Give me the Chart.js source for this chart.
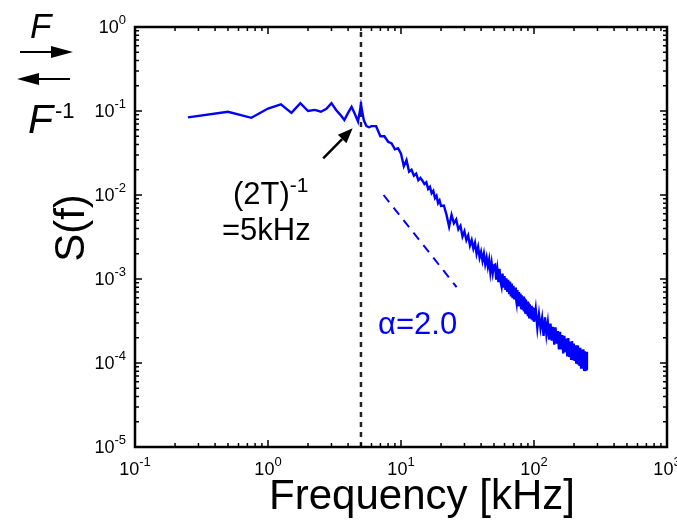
<!DOCTYPE html>
<html>
<head>
<meta charset="utf-8">
<script src="https://cdn.jsdelivr.net/npm/chart.js@4.4.1/dist/chart.umd.min.js"></script>
<style>
  html, body { margin: 0; padding: 0; background: #fff; }
  #wrap { width: 677px; height: 525px; position: relative; }
</style>
</head>
<body>
<div id="wrap"><canvas id="psdChart"></canvas></div>
<script>
// spectrum S(f), frequency in kHz
const freqs = [
  0.25, 0.5, 0.75, 1, 1.25, 1.5, 1.75, 2, 2.25, 2.5, 2.75, 3, 3.25, 3.5, 3.75, 4, 4.25, 4.5, 4.75, 5, 5.25, 5.5, 5.75, 6,
  6.5, 7, 7.5, 8, 8.5, 9, 9.5, 10, 10.5, 11, 11.5, 12, 12.5, 13, 13.5, 14, 14.5, 15, 15.5, 16, 16.5, 17, 17.5, 18, 18.5, 19, 19.5, 20,
  21, 22, 23, 24, 25, 26, 27, 28, 29, 30, 31, 32, 33, 34, 35, 36, 37, 38, 39, 40, 41, 42, 43, 44, 45, 46, 47, 48, 49, 50,
  51, 52, 53, 54, 55, 56, 57, 58, 59, 60, 61, 62, 63, 64, 65, 66, 67, 68, 69, 70, 71, 72, 73, 74, 75,
  76, 77, 78, 79, 80, 81, 82, 83, 84, 85, 86, 87, 88, 89, 90, 91, 92, 93, 94, 95, 96, 97, 98, 99, 100,
  103, 106, 109, 112, 115, 118, 121, 124, 127, 130, 133, 136, 139, 142, 145, 148, 151, 154, 157, 160, 163, 166, 169, 172, 175,
  178, 181, 184, 187, 190, 193, 196, 199, 202, 205, 208, 211, 214, 217, 220, 223, 226, 229, 232, 235, 238, 241, 244, 247, 250
]
const psd = [
  0.084, 0.098, 0.083, 0.107, 0.12, 0.095, 0.124, 0.1, 0.103, 0.098, 0.106, 0.124, 0.103, 0.09, 0.078, 0.095, 0.112, 0.092, 0.075, 0.118, 0.078, 0.066, 0.064, 0.066,
  0.066, 0.05, 0.05, 0.043, 0.041, 0.035, 0.036, 0.031, 0.022, 0.026, 0.019, 0.02, 0.017, 0.018, 0.015, 0.016, 0.0148, 0.0135, 0.0142, 0.0118, 0.0125, 0.0105, 0.0112, 0.0092, 0.0098, 0.008, 0.0086, 0.0074,
  0.0075, 0.0058, 0.0042, 0.0058, 0.0046, 0.0051, 0.0039, 0.0043, 0.0032, 0.0037, 0.0029, 0.0033, 0.0025, 0.0029, 0.0023, 0.0027, 0.002, 0.0024, 0.0018, 0.0021, 0.00165, 0.002, 0.0015, 0.0018, 0.0014, 0.0017, 0.0012, 0.00155, 0.00118, 0.00145,
  0.00148, 0.00098, 0.00128, 0.00092, 0.00132, 0.00094, 0.00082, 0.00116, 0.00079, 0.00108, 0.00074, 0.00102, 0.0007, 0.00098, 0.00068, 0.00093, 0.00062, 0.00088, 0.00059, 0.00083, 0.00057, 0.00079, 0.0006, 0.00052, 0.00074,
  0.00049, 0.0007, 0.00047, 0.00067, 0.00045, 0.00064, 0.00043, 0.00062, 0.00041, 0.00059, 0.0004, 0.00057, 0.00038, 0.00054, 0.00036, 0.00052, 0.00035, 0.0005, 0.00034, 0.00048, 0.00033, 0.00046, 0.00032, 0.00045, 0.00031,
  4.4e-4, 2.6e-4, 3.8e-4, 2.6e-4, 3.4e-4, 2.1e-4, 3.5e-4, 2.2e-4, 3.0e-4, 1.9e-4, 2.95e-4, 1.85e-4, 2.7e-4, 1.65e-4, 2.65e-4, 1.7e-4, 2.4e-4, 1.45e-4, 2.35e-4, 1.45e-4, 2.15e-4, 1.3e-4, 2.1e-4, 1.35e-4, 1.95e-4,
  1.2e-4, 1.98e-4, 1.18e-4, 1.8e-4, 1.12e-4, 1.82e-4, 1.08e-4, 1.7e-4, 1.06e-4, 1.62e-4, 0.98e-4, 1.62e-4, 0.96e-4, 1.52e-4, 0.92e-4, 1.52e-4, 0.88e-4, 1.44e-4, 0.86e-4, 1.46e-4, 0.83e-4, 1.38e-4, 0.8e-4, 1.36e-4, 0.82e-4
]

// alpha = 2.0 guide line
const guideFreq = [7.4, 26.2]
const guideS = [0.01, 0.0008]

// (2T)^-1 cutoff marker
const cutoffFreq = 5
const arrowFrom = { x: 2.6, y: 0.0273 }
const arrowTo = { x: 4.33, y: 0.0622 }

const xDecades = [0.1, 1, 10, 100, 1000]
const xExponents = ['-1', '0', '1', '2', '3']
const yDecades = [0.00001, 0.0001, 0.001, 0.01, 0.1, 1]
const yExponents = ['-5', '-4', '-3', '-2', '-1', '0']

const FONT = '"Liberation Sans", Arial, Helvetica, sans-serif'

function powerLabel(ctx, exp, x, y, align) {
  // "10" plus raised exponent, y = baseline of the "10"
  ctx.font = '18px ' + FONT
  const wBase = ctx.measureText('10').width
  ctx.font = '13px ' + FONT
  const wExp = ctx.measureText(exp).width
  let left = x
  if (align === 'right') left = x - wBase - wExp
  if (align === 'center') left = x - (wBase + wExp) / 2
  ctx.textAlign = 'left'
  ctx.textBaseline = 'alphabetic'
  ctx.font = '18px ' + FONT
  ctx.fillText('10', left, y)
  ctx.font = '13px ' + FONT
  ctx.fillText(exp, left + wBase, y - 9)
}

function arrow(ctx, x1, y1, x2, y2, headLen, headHalf) {
  const ang = Math.atan2(y2 - y1, x2 - x1)
  const bx = x2 - Math.cos(ang) * headLen
  const by = y2 - Math.sin(ang) * headLen
  ctx.beginPath()
  ctx.moveTo(x1, y1)
  ctx.lineTo(bx, by)
  ctx.stroke()
  ctx.beginPath()
  ctx.moveTo(x2, y2)
  ctx.lineTo(bx + Math.sin(ang) * headHalf, by - Math.cos(ang) * headHalf)
  ctx.lineTo(bx - Math.sin(ang) * headHalf, by + Math.cos(ang) * headHalf)
  ctx.closePath()
  ctx.fill()
}

const axisDecor = {
  id: 'axisDecor',
  afterDraw(chart) {
    const { ctx, chartArea: a, scales: { x, y } } = chart
    ctx.save()
    ctx.strokeStyle = '#000'
    ctx.fillStyle = '#000'

    // ticks inside the box, all four sides
    ctx.lineWidth = 1.5
    xDecades.forEach((d, i) => {
      const muls = i < xDecades.length - 1 ? [1, 2, 3, 4, 5, 6, 7, 8, 9] : [1]
      muls.forEach(m => {
        const px = x.getPixelForValue(d * m)
        const len = m === 1 ? 7 : 4
        ctx.beginPath()
        ctx.moveTo(px, a.bottom); ctx.lineTo(px, a.bottom - len)
        ctx.moveTo(px, a.top); ctx.lineTo(px, a.top + len)
        ctx.stroke()
      })
    })
    yDecades.forEach((d, i) => {
      const muls = i < yDecades.length - 1 ? [1, 2, 3, 4, 5, 6, 7, 8, 9] : [1]
      muls.forEach(m => {
        const py = y.getPixelForValue(d * m)
        const len = m === 1 ? 7 : 4
        ctx.beginPath()
        ctx.moveTo(a.left, py); ctx.lineTo(a.left + len, py)
        ctx.moveTo(a.right, py); ctx.lineTo(a.right - len, py)
        ctx.stroke()
      })
    })

    // box
    ctx.lineWidth = 2.5
    ctx.strokeRect(a.left, a.top, a.right - a.left, a.bottom - a.top)

    // tick labels
    xDecades.forEach((d, i) => powerLabel(ctx, xExponents[i], x.getPixelForValue(d), a.bottom + 28, 'center'))
    yDecades.forEach((d, i) => powerLabel(ctx, yExponents[i], a.left - 9, y.getPixelForValue(d) + 6, 'right'))

    // axis titles
    ctx.textAlign = 'center'
    ctx.textBaseline = 'alphabetic'
    ctx.font = '42px ' + FONT
    ctx.fillText('Frequency [kHz]', 422, 509)
    ctx.save()
    ctx.translate(84, 228)
    ctx.rotate(-Math.PI / 2)
    ctx.fillText('S(f)', 0, 0)
    ctx.restore()

    // cutoff annotation
    ctx.textAlign = 'left'
    ctx.font = '31px ' + FONT
    ctx.fillText('(2T)', 233, 204)
    const w2t = ctx.measureText('(2T)').width
    ctx.font = '21px ' + FONT
    ctx.fillText('-1', 233 + w2t, 192)
    ctx.font = '31px ' + FONT
    ctx.fillText('=5kHz', 222, 240)
    ctx.lineWidth = 2.5
    arrow(ctx, x.getPixelForValue(arrowFrom.x), y.getPixelForValue(arrowFrom.y),
      x.getPixelForValue(arrowTo.x), y.getPixelForValue(arrowTo.y), 15, 6)

    // slope label
    ctx.fillStyle = '#0000ff'
    ctx.font = '31px ' + FONT
    ctx.fillText('\u03b1=2.0', 378, 334)

    // F / F^-1 arrows at the left
    ctx.fillStyle = '#000'
    ctx.font = 'italic 35px ' + FONT
    ctx.fillText('F', 30, 38)
    ctx.font = 'italic 41px ' + FONT
    ctx.fillText('F', 28, 133)
    ctx.font = '22px ' + FONT
    ctx.fillText('-1', 55, 118)
    ctx.lineWidth = 2
    arrow(ctx, 20, 52, 73, 52, 22, 6)
    arrow(ctx, 70, 79, 17, 79, 22, 6)

    ctx.restore()
  }
}

new Chart(document.getElementById('psdChart').getContext('2d'), {
  type: 'line',
  data: {
    datasets: [
      {
        label: 'S(f)',
        data: freqs.map((f, i) => ({ x: f, y: psd[i] })),
        borderColor: '#0000ff',
        borderWidth: 2.4,
        pointRadius: 0,
        tension: 0,
      },
      {
        label: 'alpha=2.0',
        data: guideFreq.map((f, i) => ({ x: f, y: guideS[i] })),
        borderColor: '#0000ff',
        borderWidth: 2,
        borderDash: [9, 7],
        pointRadius: 0,
      },
      {
        label: '(2T)^-1',
        data: [{ x: cutoffFreq, y: 0.00001 }, { x: cutoffFreq, y: 1 }],
        borderColor: '#222',
        borderWidth: 2.5,
        borderDash: [5, 5],
        pointRadius: 0,
      },
    ],
  },
  options: {
    responsive: true,
    maintainAspectRatio: false,
    animation: false,
    layout: { padding: { left: 135, right: 10, top: 27, bottom: 78 } },
    plugins: { legend: { display: false }, tooltip: { enabled: false } },
    scales: {
      x: {
        type: 'logarithmic', min: 0.1, max: 1000,
        ticks: { display: false },
        grid: { display: false, drawTicks: false },
        border: { display: false },
        afterFit: s => { s.height = 0 },
      },
      y: {
        type: 'logarithmic', min: 0.00001, max: 1,
        ticks: { display: false },
        grid: { display: false, drawTicks: false },
        border: { display: false },
        afterFit: s => { s.width = 0 },
      },
    },
  },
  plugins: [axisDecor],
})
</script>
</body>
</html>
